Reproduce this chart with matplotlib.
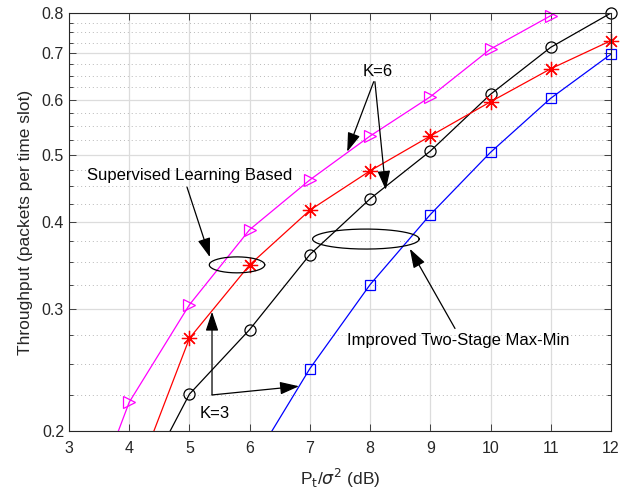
import numpy as np
import matplotlib
matplotlib.use('Agg')
import matplotlib.pyplot as plt
from matplotlib.ticker import FixedLocator, NullFormatter

plt.rcParams['font.family'] = ['Liberation Sans', 'DejaVu Sans']
plt.rcParams['mathtext.fontset'] = 'dejavusans'

# x positions (dB); first/last points are where the curves leave the plot box
x_sup6 = [3.82, 4, 5, 6, 7, 8, 9, 10, 11, 12]
y_sup6 = [0.2, 0.22, 0.304, 0.390, 0.460, 0.532, 0.606, 0.710, 0.793, 0.885]

x_imp6 = [4.68, 5, 6, 7, 8, 9, 10, 11, 12]
y_imp6 = [0.2, 0.226, 0.280, 0.359, 0.432, 0.506, 0.611, 0.714, 0.800]

x_sup3 = [4.41, 5, 6, 7, 8, 9, 10, 11, 12]
y_sup3 = [0.2, 0.272, 0.347, 0.416, 0.474, 0.532, 0.596, 0.665, 0.730]

x_imp3 = [6.37, 7, 8, 9, 10, 11, 12]
y_imp3 = [0.2, 0.246, 0.325, 0.410, 0.504, 0.603, 0.698]

xticks = [3, 4, 5, 6, 7, 8, 9, 10, 11, 12]
yticks = [0.2, 0.3, 0.4, 0.5, 0.6, 0.7, 0.8]

fig = plt.figure(figsize=(6.3, 4.95), dpi=100)
ax = fig.add_axes([0.1095, 0.1293, 0.8603, 0.8444])
ax.set_yscale('log')

lw = 0.9
series = [
    (x_sup6, y_sup6, '#ff00ff', '>', 8.5),
    (x_imp6, y_imp6, 'k', 'o', 8),
    (x_sup3, y_sup3, '#ff0000', (8, 2, 0), 11),
    (x_imp3, y_imp3, '#0000ff', 's', 6.5),
]
for xs, ys, c, m, ms in series:
    ax.plot(xs, ys, color=c, lw=lw)
    # markers only at the integer dB points, drawn unclipped
    xm = [v for v in xs if float(v).is_integer() and ys[xs.index(v)] <= 0.81]
    ym = [ys[xs.index(v)] for v in xm]
    ax.plot(xm, ym, color=c, lw=0, marker=m, ms=ms, mfc='none', mew=0.9, clip_on=False)

ax.set_xlim(3, 12)
ax.set_ylim(0.2, 0.8)
ax.set_xticks(xticks)
ax.set_xticklabels([str(v) for v in xticks])
ax.yaxis.set_major_locator(FixedLocator(yticks))
ax.set_yticklabels(['%.1f' % v for v in yticks])
minor = [round(v, 3) for v in np.arange(0.225, 0.8, 0.025) if round(v, 3) not in yticks]
ax.yaxis.set_minor_locator(FixedLocator(minor))
ax.yaxis.set_minor_formatter(NullFormatter())

ax.grid(True, which='major', color='#dcdcdc', lw=0.9)
ax.grid(True, which='minor', axis='y', color='#b8b8b8', lw=0.7, ls=(0, (1, 3)))
ax.set_axisbelow(True)

ax.tick_params(which='both', direction='in', top=True, right=True, labelsize=11.5,
               colors='#262626', width=0.6)
ax.tick_params(which='major', length=5)
ax.tick_params(axis='x', pad=7)
ax.tick_params(which='minor', length=3)
for s in ax.spines.values():
    s.set_color('#262626')
    s.set_linewidth(0.8)

ax.set_xlabel(r'P$_\mathrm{t}$/$\sigma^2$ (dB)', fontsize=12.5, color='#262626', labelpad=8)
ax.set_ylabel('Throughput (packets per time slot)', fontsize=12.5, color='#262626', labelpad=6)

ap = dict(arrowstyle='-|>,head_length=0.9,head_width=0.3', color='k', lw=0.9,
          shrinkA=0, shrinkB=0, mutation_scale=13)

# ellipses drawn in log-y space
t = np.linspace(0, 2 * np.pi, 200)
ax.plot(5.79 + 0.46 * np.cos(t), 0.347 * 10 ** (0.0115 * np.sin(t)), color='k', lw=0.9)
ax.plot(7.93 + 0.885 * np.cos(t), 0.378 * 10 ** (0.0144 * np.sin(t)), color='k', lw=0.9)

fs = 12
ax.text(8.13, 0.658, 'K=6', fontsize=fs, ha='center', va='center')
ax.annotate('', xy=(7.62, 0.505), xytext=(8.06, 0.637), arrowprops=ap)
ax.annotate('', xy=(8.26, 0.445), xytext=(8.08, 0.637), arrowprops=ap)

ax.text(5.01, 0.466, 'Supervised Learning Based', fontsize=fs, ha='center', va='center')
ax.annotate('', xy=(5.34, 0.356), xytext=(4.96, 0.449), arrowprops=ap)

ax.text(9.46, 0.270, 'Improved Two-Stage Max-Min', fontsize=fs, ha='center', va='center')
ax.annotate('', xy=(8.66, 0.366), xytext=(9.41, 0.281), arrowprops=ap)

ax.text(5.42, 0.212, 'K=3', fontsize=fs, ha='center', va='center')
ax.annotate('', xy=(5.375, 0.297), xytext=(5.375, 0.2254), arrowprops=ap)
ax.annotate('', xy=(6.82, 0.232), xytext=(5.375, 0.2254), arrowprops=ap)

fig.savefig('out.png', dpi=100)
